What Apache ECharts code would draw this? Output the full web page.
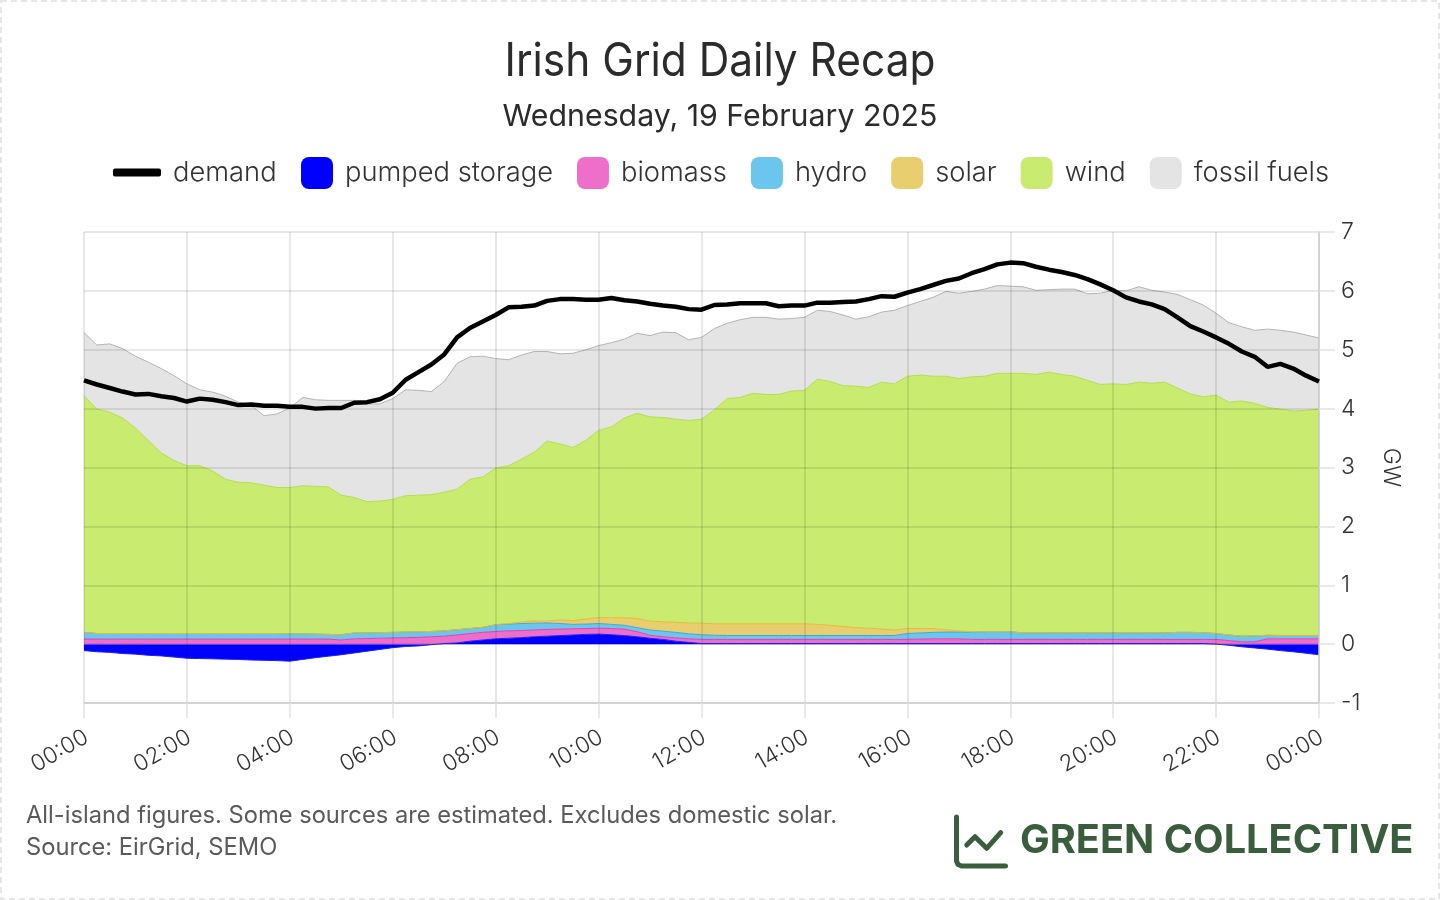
<!DOCTYPE html>
<html><head><meta charset="utf-8">
<style>html,body{margin:0;padding:0;background:#fff}#c{width:1440px;height:900px}</style>
<script src="https://cdn.jsdelivr.net/npm/echarts@6/dist/echarts.min.js"></script>
</head><body><div id="c"></div>
<script>
const times = [];
for (let h = 0; h < 24; h++) for (const m of ['00','15','30','45']) times.push(String(h).padStart(2,'0') + ':' + m);
times.push('00:00');

const pumpedStorage = [-.11,-.13,-.14,-.16,-.17,-.19,-.20,-.22,-.24,-.245,-.25,-.255,-.26,-.27,-.275,-.28,-.29,-.26,-.23,-.205,-.18,-.15,-.12,-.09,-.06,-.04,-.03,-.01,.01,.02,.05,.07,.09,.10,.11,.125,.135,.145,.155,.165,.17,.16,.145,.125,.10,.08,.05,.03,.01,
.01,.01,.01,.01,.01,.01,.01,.01,.01,.01,.01,.01,.01,.01,.01,.01,.01,.01,.01,.01,.01,.01,.01,.01,.01,.01,.01,.01,.01,.01,.01,.01,.01,.01,.01,.01,.01,.01,.01,0,-.02,-.045,-.065,-.085,-.11,-.13,-.155,-.18];
const biomass = [.085,.085,.085,.085,.085,.085,.085,.085,.085,.085,.085,.085,.085,.085,.085,.085,.085,.085,.085,.085,.07,.09,.095,.10,.105,.11,.115,.125,.125,.135,.13,.13,.125,.125,.12,.115,.115,.11,.105,.10,.10,.105,.11,.085,.05,.045,.055,.06,.07,
.07,.07,.07,.07,.07,.07,.07,.07,.07,.07,.07,.07,.07,.07,.07,.07,.075,.08,.08,.08,.07,.07,.07,.07,.07,.07,.07,.07,.07,.07,.07,.07,.07,.07,.07,.07,.07,.07,.07,.08,.06,.04,.04,.09,.09,.09,.09,.09];
const hydro = [.115,.095,.095,.095,.095,.095,.095,.095,.095,.095,.095,.095,.095,.095,.095,.095,.09,.09,.085,.08,.09,.10,.095,.095,.095,.095,.095,.09,.09,.09,.085,.085,.115,.115,.12,.115,.11,.095,.075,.075,.08,.07,.065,.07,.09,.095,.095,.085,.08,
.07,.067,.067,.067,.067,.067,.067,.067,.067,.067,.067,.067,.067,.067,.067,.10,.105,.11,.115,.115,.125,.13,.13,.13,.11,.11,.11,.11,.11,.11,.11,.11,.11,.11,.11,.11,.12,.12,.115,.10,.095,.095,.10,.06,.057,.057,.057,.057];
const solar = [0,0,0,0,0,0,0,0,0,0,0,0,0,0,0,0,0,0,0,0,0,0,0,0,0,0,0,0,0,0,0,0,0,.01,.025,.04,.035,.06,.065,.085,.10,.115,.125,.155,.15,.16,.17,.185,.195,
.195,.198,.198,.198,.198,.198,.198,.198,.188,.173,.153,.133,.123,.108,.093,.085,.075,.065,.04,.02,.005,0,0,0,0,0,0,0,0,0,0,0,0,0,0,0,0,0,0,0,0,0,0,0,0,0,0,0];
const wind = [4.02,3.81,3.76,3.66,3.49,3.28,3.07,2.94,2.85,2.85,2.76,2.62,2.57,2.56,2.52,2.48,2.485,2.515,2.51,2.505,2.37,2.30,2.23,2.235,2.26,2.315,2.32,2.325,2.355,2.385,2.535,2.555,2.66,2.68,2.765,2.865,3.055,2.99,2.94,3.035,3.18,3.24,3.395,3.485,3.47,3.47,3.45,3.44,3.465,
3.635,3.825,3.845,3.915,3.895,3.895,3.955,3.965,4.165,4.14,4.09,4.10,4.09,4.195,4.18,4.285,4.305,4.285,4.305,4.285,4.33,4.34,4.39,4.39,4.41,4.39,4.43,4.39,4.36,4.29,4.22,4.23,4.22,4.26,4.24,4.26,4.15,4.05,4.005,4.05,3.955,3.995,3.95,3.87,3.843,3.813,3.823,3.843];
const fossilFuels = [1.07,1.09,1.16,1.18,1.22,1.33,1.43,1.44,1.39,1.29,1.34,1.41,1.36,1.31,1.18,1.25,1.35,1.50,1.47,1.47,1.61,1.65,1.66,1.65,1.71,1.80,1.78,1.75,1.88,2.14,2.08,2.05,1.86,1.80,1.77,1.71,1.52,1.53,1.60,1.54,1.44,1.43,1.34,1.36,1.38,1.45,1.47,1.37,1.39,
1.38,1.28,1.32,1.29,1.31,1.28,1.23,1.24,1.17,1.19,1.20,1.14,1.20,1.19,1.25,1.20,1.25,1.34,1.44,1.45,1.45,1.48,1.49,1.48,1.47,1.43,1.40,1.45,1.48,1.47,1.55,1.59,1.59,1.62,1.58,1.53,1.59,1.60,1.56,1.39,1.35,1.26,1.24,1.33,1.34,1.34,1.28,1.21];
const demand = [4.48,4.41,4.35,4.29,4.24,4.25,4.21,4.18,4.12,4.17,4.15,4.11,4.06,4.07,4.05,4.05,4.03,4.03,4.00,4.01,4.01,4.10,4.11,4.16,4.27,4.49,4.62,4.75,4.92,5.21,5.37,5.48,5.59,5.72,5.73,5.75,5.83,5.86,5.86,5.85,5.85,5.88,5.84,5.82,5.78,5.75,5.73,5.69,5.68,
5.76,5.77,5.79,5.79,5.79,5.74,5.75,5.75,5.80,5.80,5.81,5.82,5.86,5.91,5.90,5.97,6.03,6.10,6.17,6.21,6.30,6.37,6.45,6.48,6.47,6.41,6.36,6.32,6.27,6.20,6.11,6.01,5.89,5.82,5.77,5.69,5.55,5.40,5.31,5.21,5.10,4.97,4.88,4.71,4.76,4.68,4.56,4.46];

const FONT = 'Inter';
const INK = '#333333';
const stacked = (name, data, color, stroke) => ({
  name, type:'line', stack:'mix', data, symbol:'none', smooth:false, z:2,
  itemStyle:{color}, lineStyle:{color:stroke, width:1}, areaStyle:{color, opacity:1},
  emphasis:{disabled:true}
});
const legendBase = {
  orient:'horizontal', itemGap:24, padding:0, selectedMode:false,
  itemStyle:{borderWidth:0}, icon:'roundRect'
};
const legendText = (pt) => ({fontFamily:FONT, fontSize:27.3, fontWeight:300, color:INK, padding:[pt,0,0,7]});
const chart = echarts.init(document.getElementById('c'), null, {renderer:'canvas'});
chart.setOption({
  animation:false,
  backgroundColor:'#fff',
  title:[
    {text:'Wednesday, 19 February 2025', left:720, top:102, padding:0, textAlign:'center', textStyle:{fontFamily:FONT, fontSize:30.3, fontWeight:400, color:'#2b2b2b'}},
    {text:'All-island figures. Some sources are estimated. Excludes domestic solar.\nSource: EirGrid, SEMO', left:26, top:800, padding:0, textStyle:{fontFamily:FONT, fontSize:23.7, fontWeight:400, color:'#5a5a5a', lineHeight:32}},
    {text:'GREEN COLLECTIVE', left:1020, top:821, padding:0, textStyle:{fontFamily:FONT, fontSize:39.7, fontWeight:700, color:'#3a5d3e'}}
  ],
  legend:[
    Object.assign({}, legendBase, {left:113, top:159, itemWidth:48, itemHeight:8, textStyle:legendText(9), data:['demand']}),
    Object.assign({}, legendBase, {left:301, top:157, itemWidth:32, itemHeight:32, textStyle:legendText(12), data:['pumped storage','biomass','hydro','solar','wind','fossil fuels']})
  ],
  grid:{left:84, right:121, top:232, bottom:197, containLabel:false},
  xAxis:{
    type:'category', data:times, boundaryGap:false, z:3,
    axisLine:{show:true, onZero:false, lineStyle:{color:'#cccccc', width:1.5}},
    axisTick:{show:true, interval:7, length:15, lineStyle:{color:'#e2e2e2', width:1.5}},
    splitLine:{show:true, interval:7, lineStyle:{color:'rgba(0,0,0,0.12)', width:1.5}},
    axisLabel:{interval:7, rotate:30, margin:34, padding:[0,-3,0,0], fontFamily:FONT, fontSize:22.6, fontWeight:300, color:INK, showMaxLabel:true, hideOverlap:false}
  },
  yAxis:{
    type:'value', position:'right', min:-1, max:7, interval:1, z:3,
    name:'GW', nameLocation:'middle', nameRotate:-90, nameGap:60,
    nameTextStyle:{fontFamily:FONT, fontSize:23, fontWeight:300, color:INK},
    axisLine:{show:true, onZero:false, lineStyle:{color:'#cccccc', width:1.5}},
    axisTick:{show:true, length:16, lineStyle:{color:'#e2e2e2', width:1.5}},
    splitLine:{show:true, lineStyle:{color:'rgba(0,0,0,0.12)', width:1.5}},
    axisLabel:{margin:22, padding:[9,0,0,0], fontFamily:FONT, fontSize:23, fontWeight:300, color:INK}
  },
  series:[
    {name:'demand', type:'line', data:demand, symbol:'none', smooth:false, z:5, itemStyle:{color:'#000'}, lineStyle:{color:'#000', width:4.5}, emphasis:{disabled:true}},
    stacked('pumped storage', pumpedStorage, '#0000ff', '#2020e8'),
    stacked('biomass', biomass, '#ee6fc9', '#e23fb2'),
    stacked('hydro', hydro, '#6ac6ec', '#3aaad8'),
    stacked('solar', solar, '#e8ce6e', '#e6bb3a'),
    stacked('wind', wind, '#c8eb70', '#b3df4c'),
    stacked('fossil fuels', fossilFuels, '#e4e4e4', '#b4b4b4')
  ],
  graphic:[
    {type:'text', silent:true, x:720, y:62, scaleX:0.922, style:{text:'Irish Grid Daily Recap', align:'center', verticalAlign:'middle', fontFamily:FONT, fontSize:46, fontWeight:400, fill:'#2b2b2b'}},
    {type:'rect', silent:true, shape:{x:1,y:1,width:1438,height:898}, style:{fill:'none', stroke:'#e6e6e6', lineWidth:2, lineDash:[6,4]}},
    {type:'polyline', silent:true, shape:{points:[[956.5,817],[956.5,861],[958,864.5],[961.5,866],[1005.5,866]]}, style:{fill:'none', stroke:'#3a5d3e', lineWidth:5, lineCap:'round', lineJoin:'round'}},
    {type:'polyline', silent:true, shape:{points:[[966.7,845],[975,836.7],[986.7,848.3],[1000.7,832.7]]}, style:{fill:'none', stroke:'#3a5d3e', lineWidth:5, lineCap:'round', lineJoin:'round'}}
  ]
});
</script></body></html>
